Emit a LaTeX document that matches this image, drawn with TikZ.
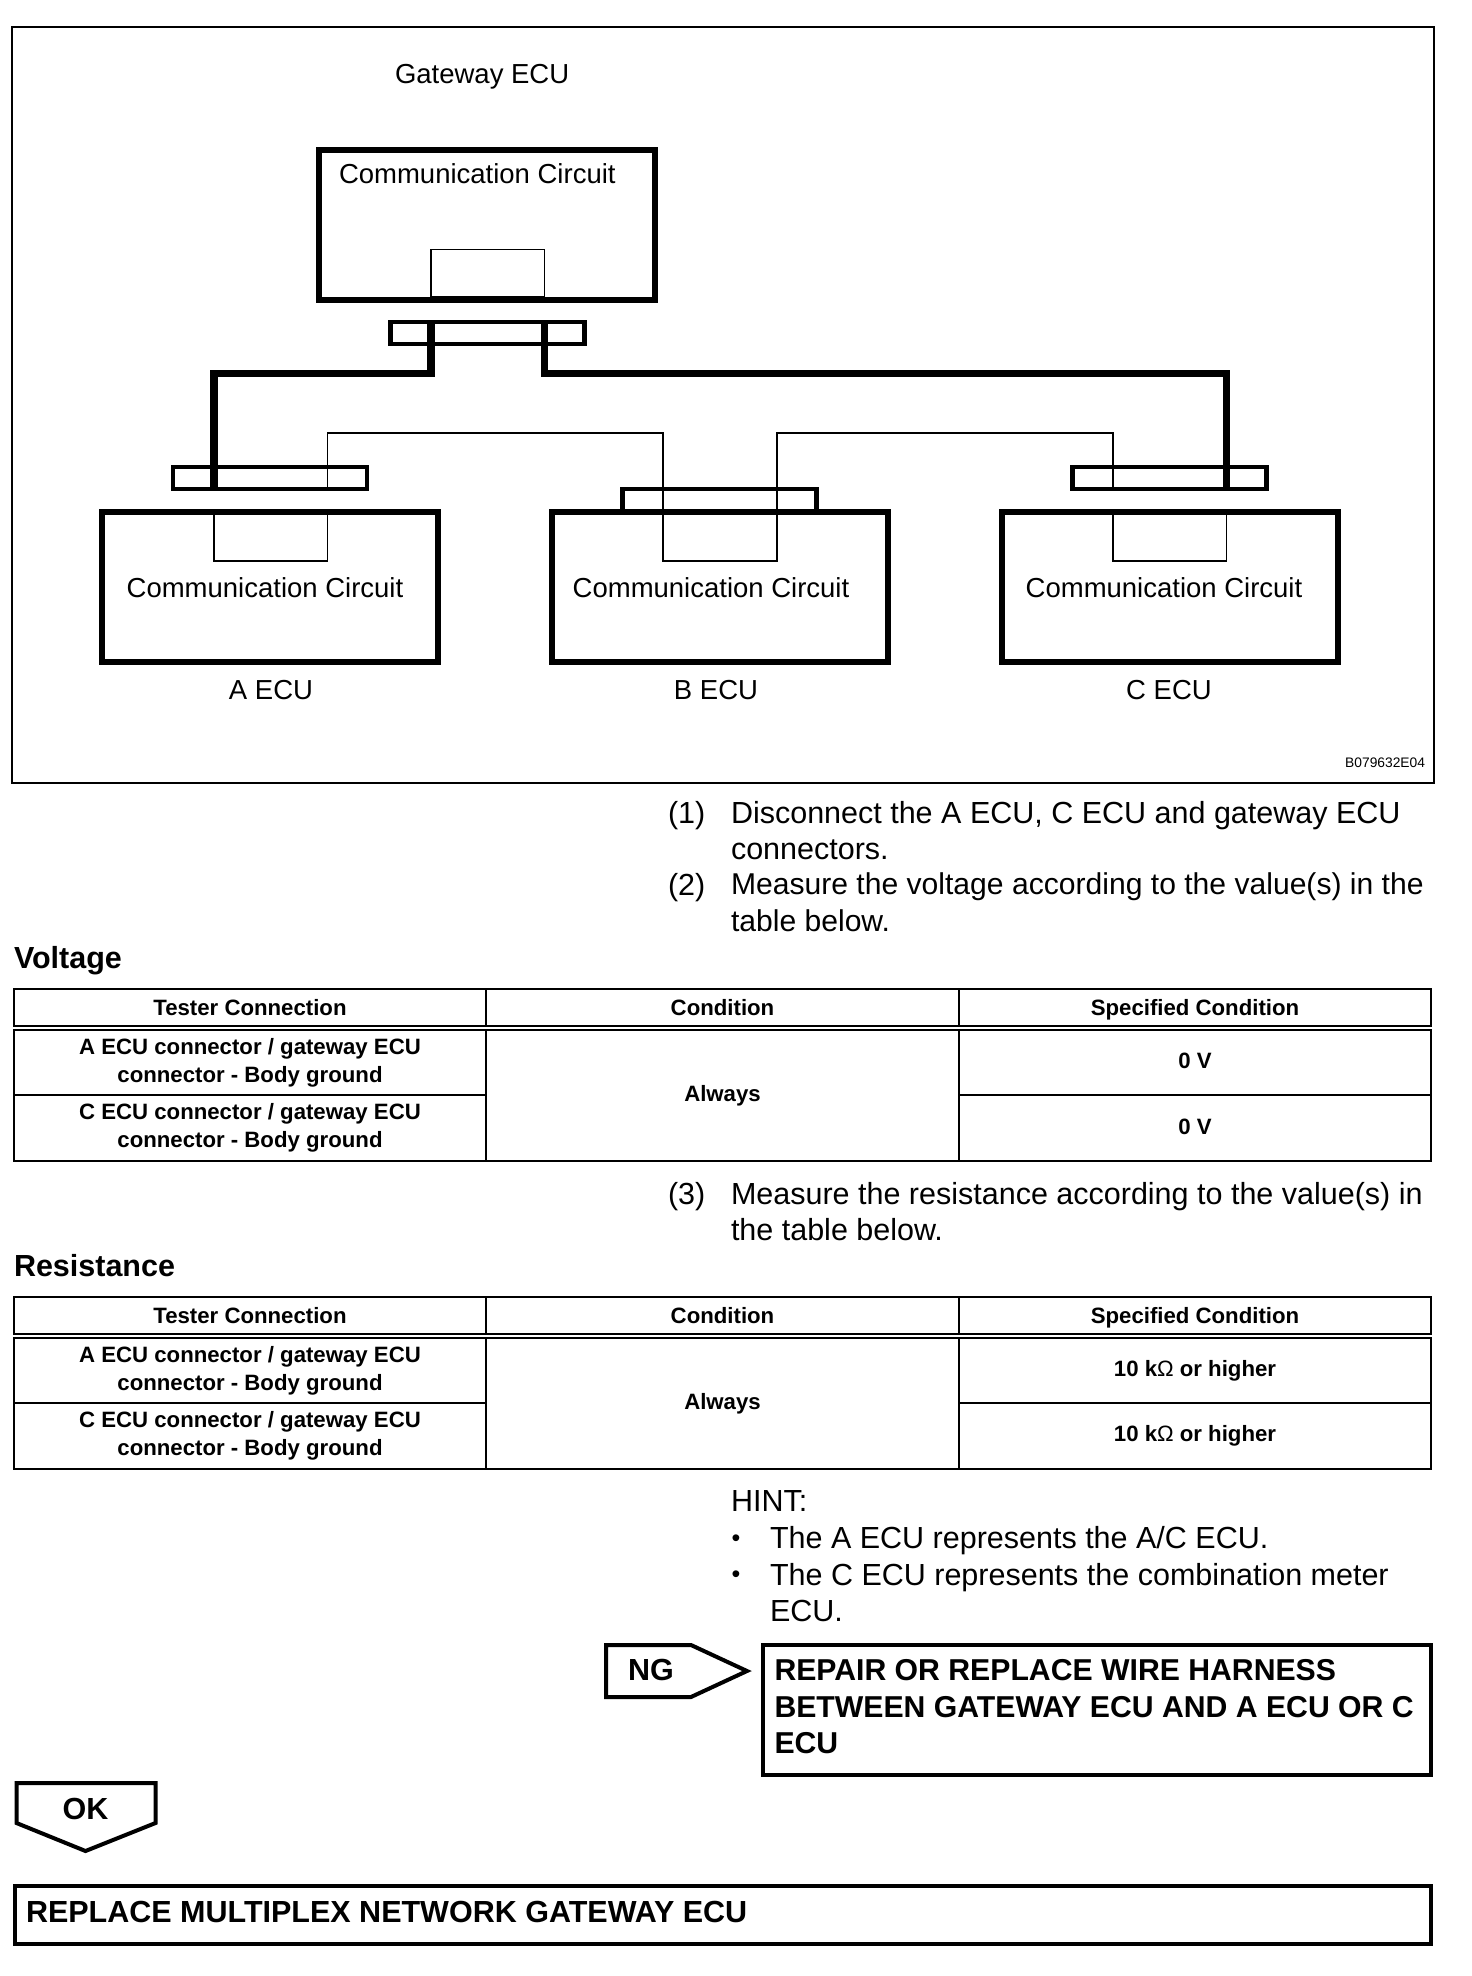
\documentclass[tikz,border=0pt]{standalone}
\usepackage{fontspec}
\setmainfont{Liberation Sans}
\newcommand{\ohm}{{\mdseries Ω}}
\newcommand{\bodyfont}{\fontsize{30.5}{36.4}\selectfont}
\newcommand{\diagfont}{\fontsize{27.5}{33}\selectfont}
\newcommand{\cellfont}{\fontsize{22.2}{28}\selectfont\bfseries}

\begin{document}
\begin{tikzpicture}[
  x=1pt, y=-1pt,
  every node/.style={outer sep=0pt, inner sep=0pt},
  ecubox/.style={draw, line width=6pt, minimum width=336pt, minimum height=150pt},
  sockbox/.style={draw, line width=1.6pt, minimum width=113.5pt, minimum height=49pt},
  plugbox/.style={draw, line width=4.6pt, minimum width=194pt, minimum height=22pt},
  thickwire/.style={line width=7.5pt, line join=miter},
  thinwire/.style={line width=1.6pt},
  difflab/.style={font=\diagfont, anchor=base},
  stepnum/.style={font=\bodyfont, anchor=north west},
  steptxt/.style={font=\bodyfont, anchor=north west, align=left},
  bulletlab/.style={font=\fontsize{25}{27}\selectfont, anchor=base},
  headlab/.style={font=\fontsize{30.5}{36}\selectfont\bfseries, anchor=base west},
  cell/.style={draw, line width=2pt, minimum width=472.5pt, align=center, font=\cellfont},
  hcell/.style={cell, minimum height=37pt, text height=16pt, text depth=0pt},
  vcell/.style={cell, text height=16pt, text depth=4pt},
  flowbox/.style={draw, line width=4pt, anchor=north west},
  flowtxt/.style={font=\fontsize{30.5}{36.5}\selectfont\bfseries, align=left}
]
\useasboundingbox (0,0) rectangle (1472,1976);
% the outer frame with the wiring diagram
\node[draw, line width=2pt, minimum width=1422pt, minimum height=756pt, anchor=north west] (frame) at (12,27) {};
\node[difflab, anchor=base west] (gwname) at (395,83) {Gateway ECU};
\node[ecubox] (gwbox) at (487,224.5) {};
\node[difflab, anchor=base west] (gwtxt) at (339,183.5) {Communication Circuit};
\node[sockbox, minimum height=47pt] (gwsock) at (487.7,273) {};
\node[plugbox] (gwplug) at (487.5,333) {};
% the three ECUs underneath
\node[ecubox] (abox) at (270,586.5) {};
\node[ecubox] (bbox) at (719.5,586.5) {};
\node[ecubox] (cbox) at (1169.5,586.5) {};
\node[sockbox] (asock) at (270.7,536.5) {};
\node[sockbox] (bsock) at (720,536.5) {};
\node[sockbox] (csock) at (1169.7,536.5) {};
\node[plugbox] (aplug) at (270,478) {};
\node[plugbox] (bplug) at (719.5,500) {};
\node[plugbox] (cplug) at (1169.5,478) {};
\node[difflab] (atxt) at (265,597) {Communication Circuit};
\node[difflab] (btxt) at (711,597) {Communication Circuit};
\node[difflab] (ctxt) at (1164,597) {Communication Circuit};
\node[difflab] (aname) at (271,699) {A ECU};
\node[difflab] (bname) at (716,699) {B ECU};
\node[difflab] (cname) at (1169,699) {C ECU};
\node[font=\fontsize{13.8}{16}\selectfont, anchor=base east] (code) at (1425,767) {B079632E04};
% the wires between them
\coordinate (trunk) at (0,373.5);
\coordinate (bus) at (0,433);
\draw[thickwire] (gwsock.south west |- gwplug.north) -- (gwsock.south west |- trunk)
  -- (asock.north west |- trunk) -- (asock.north west |- aplug.south);
\draw[thickwire] (gwsock.south east |- gwplug.north) -- (gwsock.south east |- trunk)
  -- (csock.north east |- trunk) -- (csock.north east |- cplug.south);
\draw[thinwire] (asock.north east |- aplug.south) -- (asock.north east |- bus) -- (bsock.north west |- bus) -- (bsock.north west);
\draw[thinwire] (bsock.north east) -- (bsock.north east |- bus) -- (csock.north west |- bus) -- (csock.north west |- cplug.south);
% first steps
\node[stepnum] (num1) at (668,801) {(1)};
\node[steptxt] (step1) at (731,801) {Disconnect the A ECU, C ECU and gateway ECU\\connectors.};
\node[stepnum] (num2) at (668,873) {(2)};
\node[steptxt, font=\fontsize{30.1}{36.4}\selectfont] (step2) at (731,873) {Measure the voltage according to the value(s) in the\\table below.};
% voltage table
\node[headlab] (volt) at (14,968) {Voltage};
\node[hcell] (vh1) at (250,1007.5) {Tester Connection};
\node[hcell] (vh2) at (722.5,1007.5) {Condition};
\node[hcell] (vh3) at (1195,1007.5) {Specified Condition};
\node[cell, minimum height=65pt] (va1) at (250,1062.5) {A ECU connector / gateway ECU\\connector - Body ground};
\node[cell, minimum height=66pt] (vc1) at (250,1128) {C ECU connector / gateway ECU\\connector - Body ground};
\node[cell, minimum height=131pt] (va2) at (722.5,1095.5) {Always};
\node[vcell, minimum height=65pt] (va3) at (1195,1062.5) {0 V};
\node[vcell, minimum height=66pt] (vc3) at (1195,1128) {0 V};
% next step
\node[stepnum] (num3) at (668,1182) {(3)};
\node[steptxt] (step3) at (731,1182) {Measure the resistance according to the value(s) in\\the table below.};
% resistance table
\node[headlab] (res) at (14,1276) {Resistance};
\node[hcell] (rh1) at (250,1315.5) {Tester Connection};
\node[hcell] (rh2) at (722.5,1315.5) {Condition};
\node[hcell] (rh3) at (1195,1315.5) {Specified Condition};
\node[cell, minimum height=65pt] (ra1) at (250,1370.5) {A ECU connector / gateway ECU\\connector - Body ground};
\node[cell, minimum height=66pt] (rc1) at (250,1436) {C ECU connector / gateway ECU\\connector - Body ground};
\node[cell, minimum height=131pt] (ra2) at (722.5,1403.5) {Always};
\node[cell, minimum height=65pt] (ra3) at (1195,1370.5) {10 k\ohm{} or higher};
\node[cell, minimum height=66pt] (rc3) at (1195,1436) {10 k\ohm{} or higher};
% hint
\node[steptxt] (hint) at (731,1490) {HINT:};
\node[bulletlab] (bul1) at (736,1546) {•};
\node[steptxt] (hint1) at (770,1526) {The A ECU represents the A/C ECU.};
\node[bulletlab] (bul2) at (736,1582) {•};
\node[steptxt] (hint2) at (770,1563) {The C ECU represents the combination meter\\ECU.};
% the two outcomes
\draw[line width=4pt, line join=miter] (606,1645) -- (691,1645) -- (747,1671) -- (691,1697) -- (606,1697) -- cycle;
\node[flowtxt] (nglab) at (651,1670) {NG};
\node[flowbox, minimum width=668pt, minimum height=130pt] (ngbox) at (763,1645) {};
\node[flowtxt, font=\fontsize{30.2}{36.5}\selectfont\bfseries, anchor=north west] (ngtxt) at (774.5,1659.5) {REPAIR OR REPLACE WIRE HARNESS\\BETWEEN GATEWAY ECU AND A ECU OR C\\ECU};
\draw[line width=4pt, line join=miter] (16.5,1783) -- (155.5,1783) -- (155.5,1823) -- (85.5,1851) -- (16.5,1823) -- cycle;
\node[flowtxt] (oklab) at (85.5,1809) {OK};
\node[flowbox, minimum width=1416pt, minimum height=58pt] (okbox) at (15,1886) {};
\node[flowtxt, anchor=west] (oktxt) at (26,1912) {REPLACE MULTIPLEX NETWORK GATEWAY ECU};
\end{tikzpicture}
\end{document}
